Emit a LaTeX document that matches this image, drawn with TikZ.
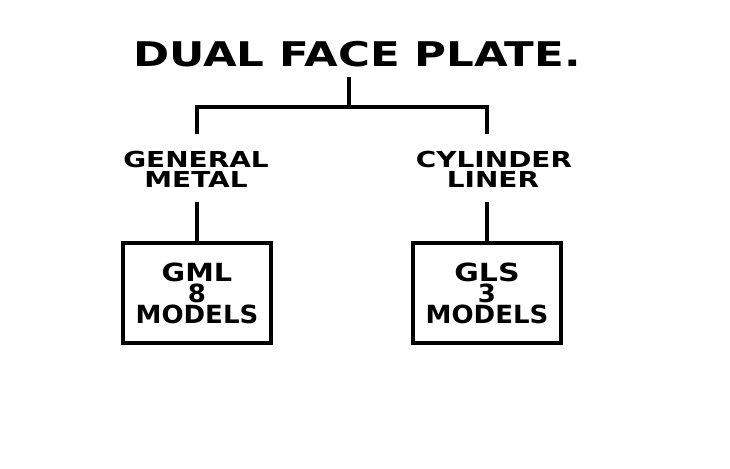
\documentclass[tikz,border=0pt]{standalone}
\usepackage{fontspec}
\setmainfont{DejaVu Sans}
\begin{document}
\begin{tikzpicture}[x=1pt,y=-1pt,
  conn/.style={line width=3.4pt},
  boxstyle/.style={draw,line width=3.2pt,minimum width=148pt,minimum height=100pt,inner sep=0pt},
  lbl/.style={anchor=base,inner sep=0pt,text height=16pt,text depth=0pt,font=\bfseries\fontsize{22}{22}\selectfont},
  boxtxt/.style={anchor=base,inner sep=0pt,text height=18pt,text depth=0pt,font=\bfseries\fontsize{25}{25}\selectfont}]
\useasboundingbox (0,0) rectangle (730,468);
\node[anchor=base,inner sep=0pt,font=\bfseries\fontsize{34}{36}\selectfont] (title) at (357,67) {\scalebox{1.28}[1]{DUAL FACE PLATE.}};
\coordinate (t0) at (349,77);
\coordinate (tj) at (349,107);
\coordinate (lj) at (197,107);
\coordinate (rj) at (487,107);
\coordinate (le) at (197,134);
\coordinate (re) at (487,134);
\node[lbl] (gm1) at (196,167) {\scalebox{1.27}[1]{GENERAL}};
\node[lbl] (gm2) at (196,187) {\scalebox{1.27}[1]{METAL}};
\node[lbl] (cl1) at (494,167) {\scalebox{1.27}[1]{CYLINDER}};
\node[lbl] (cl2) at (493,187) {\scalebox{1.27}[1]{LINER}};
\coordinate (gmb) at (197,202);
\coordinate (clb) at (487,202);
\node[boxstyle] (b1) at (197,293) {};
\node[boxstyle] (b2) at (487,293) {};
\node[boxtxt] (t1a) at (197,281) {\scalebox{1.15}[1]{GML}};
\node[boxtxt] (t1b) at (197,302) {\scalebox{1.04}[1]{8}};
\node[boxtxt] (t1c) at (197,323) {\scalebox{1.04}[1]{MODELS}};
\node[boxtxt] (t2a) at (487,281) {\scalebox{1.2}[1]{GLS}};
\node[boxtxt] (t2b) at (487,302) {\scalebox{1.04}[1]{3}};
\node[boxtxt] (t2c) at (487,323) {\scalebox{1.04}[1]{MODELS}};
\draw[conn] (t0) -- (tj);
\draw[conn] (le) -- (lj) -- (rj) -- (re);
\draw[conn] (gmb) -- (b1.north);
\draw[conn] (clb) -- (b2.north);
\end{tikzpicture}
\end{document}
